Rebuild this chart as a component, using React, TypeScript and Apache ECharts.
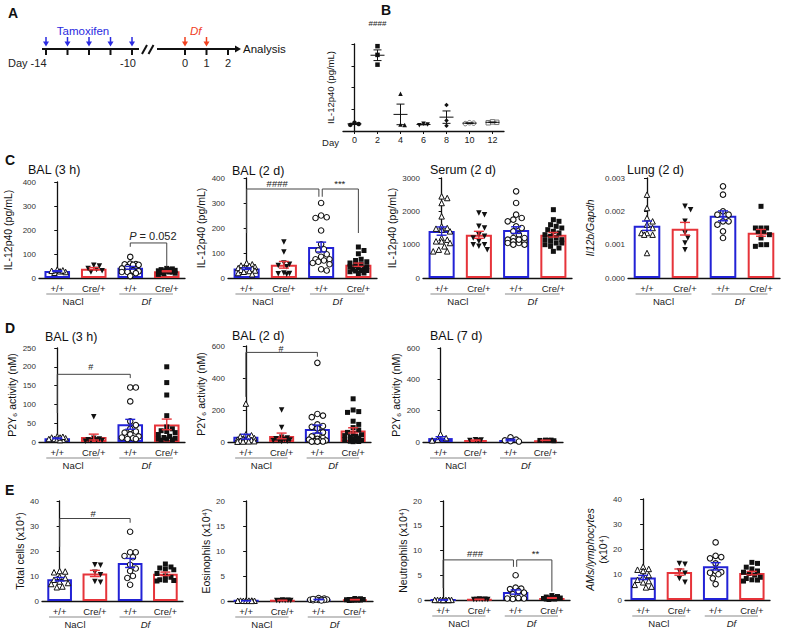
import React, { useEffect, useRef } from 'react';
import * as echarts from 'echarts';

const FONT = 'Liberation Sans, Arial, Helvetica, sans-serif';
const BLUE = '#2222d6';
const RED = '#e6343a';
const TL_BLUE = '#2a2ae0';
const TL_RED = '#f0401e';

// ---------- data ----------
const genotypes = ['+/+', 'Cre/+', '+/+', 'Cre/+'];
const treatments = ['NaCl', 'Df'];

// Panel A timeline (days)
const tamoxifenDays = [-14, -13, -12, -11, -10];
const tamoxifenLabels = [
  { day: -14, text: 'Day -14' },
  { day: -10, text: '-10' },
];
const dfDays = [0, 1];
const analysisDays = [0, 1, 2];

// Panel B: IL-12p40 (pg/mL) over days
const bDays = ['0', '2', '4', '6', '8', '10', '12'];
const bValues = [
  [38, 32, 28],
  [390, 350, 305],
  [171, 28, 30],
  [30, 27, 33],
  [119, 48, 24],
  [34, 36, 38],
  [40, 42, 38],
];

// Panel C
const cBal3h = [
  [22, 25, 28, 30, 32, 35],
  [53, 50, 40, 30, 25, 35],
  [88, 60, 58, 57, 55, 55, 45, 40, 30, 28, 25, 25, 20, 8],
  [40, 38, 35, 35, 30, 28, 25, 25, 22, 20, 18, 15, 30, 32],
];
const cBal2d = [
  [60, 55, 50, 48, 45, 42, 40, 38, 35, 33, 30, 28, 25, 20, 15],
  [144, 104, 60, 55, 50, 45, 20, 18, 15, 17],
  [300, 250, 243, 240, 190, 135, 115, 110, 95, 85, 75, 75, 70, 65, 60, 55, 35, 30],
  [124, 110, 97, 75, 70, 65, 60, 55, 50, 45, 45, 40, 38, 35, 30, 28, 25, 20, 18, 30],
];
const cSerum2d = [
  [2450, 2400, 2250, 1850, 1550, 1500, 1480, 1450, 1400, 1200, 1150, 1100, 1100, 1050, 950, 850, 800, 800],
  [1950, 1900, 1550, 1500, 1300, 1250, 1100, 1000, 950, 850, 1000, 1200],
  [2600, 2250, 1900, 1800, 1750, 1700, 1550, 1500, 1400, 1300, 1200, 1150, 1100, 1100, 1050, 1050, 1000, 1000, 1150, 1200],
  [2050, 1750, 1700, 1600, 1550, 1500, 1450, 1400, 1350, 1300, 1250, 1200, 1150, 1100, 1050, 1000, 950, 900, 800, 1050, 1150],
];
const cLung2d = [
  [0.0025, 0.0021, 0.0018, 0.0017, 0.0016, 0.0015, 0.00135, 0.00135, 0.0013, 0.0013, 0.00075],
  [0.00215, 0.00205, 0.0017, 0.00135, 0.0012, 0.00105, 0.00085],
  [0.00275, 0.0025, 0.002, 0.0019, 0.0019, 0.0017, 0.0017, 0.0016, 0.0014, 0.0012],
  [0.00215, 0.0015, 0.0015, 0.0015, 0.0014, 0.0014, 0.0013, 0.0012, 0.001, 0.001, 0.00095],
];

// Panel D
const dBal3h = [
  [15, 12, 10, 8, 8, 7, 6, 5, 12, 14],
  [67, 10, 8, 6, 5, 4, 3, 2],
  [145, 145, 108, 55, 45, 35, 28, 25, 20, 15, 12, 10, 8, 8],
  [200, 158, 125, 70, 40, 35, 30, 28, 25, 20, 15, 12, 10, 8, 8, 6, 5],
];
const dBal2d = [
  [240, 48, 42, 35, 30, 25, 20, 15, 12, 10, 8, 5, 3, 2, 4],
  [200, 90, 30, 25, 20, 15, 12, 10, 8, 5, 3],
  [495, 175, 165, 155, 110, 100, 95, 85, 60, 45, 35, 25, 20, 15, 10, 8, 5, 3, 2, 2],
  [270, 200, 190, 185, 130, 110, 90, 75, 60, 50, 45, 40, 35, 30, 25, 20, 15, 10, 8, 5, 3, 2],
];
const dBal7d = [
  [50, 25, 15, 10],
  [15, 12, 10, 8],
  [30, 15, 10, 5, 3],
  [12, 12, 10, 10, 8],
];

// Panel E
const eTotal = [
  [12, 11.8, 11.5, 9.7, 9.2, 8.5, 7.8, 7.2, 6.8, 5.5, 5.8],
  [14.5, 14.3, 11.5, 10.5, 7.5, 7.8],
  [27.7, 19.5, 19.5, 18, 17.5, 14.5, 13, 12, 10, 9.2, 6.5],
  [14.8, 13.6, 13.2, 12.5, 12.8, 11, 10, 9.5, 8.5, 8.2, 8, 8.3],
];
const eEos = [
  [0.05, 0.08, 0.1, 0.05, 0.03, 0.1, 0.08, 0.05, 0.02],
  [0.2, 0.15, 0.1, 0.05, 0.1, 0.12],
  [0.6, 0.5, 0.3, 0.3, 0.25, 0.2, 0.2, 0.15, 0.1, 0.3, 0.4],
  [0.5, 0.45, 0.3, 0.3, 0.25, 0.2, 0.2, 0.15, 0.1, 0.3, 0.3, 0.2],
];
const eNeut = [
  [0.02, 0.02, 0.03, 0.01, 0.02, 0.03, 0.02, 0.01, 0.02, 0.02],
  [0.15, 0.1, 0.2, 0.12, 0.08, 0.1],
  [5.0, 2.5, 2.3, 2.2, 1.8, 1.5, 1.2, 0.4, 0.3, 0.2, 0.3],
  [0.9, 0.7, 0.6, 0.5, 0.4, 0.3, 0.3, 0.2, 0.2, 0.1, 0.3, 0.4],
];
const eAms = [
  [13.2, 12.3, 12, 11.5, 9.9, 9.2, 8, 7, 5.3, 5, 6, 7.5],
  [14.5, 14.2, 11.5, 10.6, 8.5, 7],
  [22.8, 17.5, 17, 16.5, 14.5, 11.5, 11, 10.8, 10.2, 8.6, 6.3],
  [14.9, 14.5, 13, 12.3, 11.5, 11, 10.5, 9.9, 9, 8.5, 8, 7.9, 7.5],
];

// ---------- helpers ----------
const mean = (a: number[]) => a.reduce((s, v) => s + v, 0) / a.length;
const sem = (a: number[]) => {
  const m = mean(a);
  const sd = Math.sqrt(a.reduce((s, v) => s + (v - m) * (v - m), 0) / (a.length - 1));
  return sd / Math.sqrt(a.length);
};

// beeswarm layout of x offsets (presentation only)
function swarm(vals: number[], pxPerUnit: number, pxPerCat: number, d: number, maxPx: number) {
  const order = vals.map((_, i) => i).sort((a, b) => vals[b] - vals[a]);
  const placed: { x: number; y: number }[] = [];
  const offs = new Array(vals.length).fill(0);
  for (const i of order) {
    const y = vals[i] * pxPerUnit;
    const cands = [0];
    for (let k = 1; (k * d) / 2 <= maxPx; k++) cands.push((k * d) / 2, (-k * d) / 2);
    let best = 0;
    let bestScore = -Infinity;
    for (const c of cands) {
      let minD = Infinity;
      for (const p of placed) {
        const dist = Math.hypot(p.x - c, p.y - y);
        if (dist < minD) minD = dist;
      }
      if (minD >= d) {
        best = c;
        break;
      }
      if (minD > bestScore) {
        bestScore = minD;
        best = c;
      }
    }
    placed.push({ x: best, y });
    offs[i] = best / pxPerCat;
  }
  return offs;
}

const MARKERS = [
  { symbol: 'triangle', rotate: 0, size: 5.5, color: '#fff', border: '#111', bw: 1 },
  { symbol: 'triangle', rotate: 180, size: 5.5, color: '#111', border: '#111', bw: 0 },
  { symbol: 'circle', rotate: 0, size: 5.5, color: '#fff', border: '#111', bw: 1.1 },
  { symbol: 'rect', rotate: 0, size: 5, color: '#111', border: '#111', bw: 0 },
];

const B_MARKERS = [
  { symbol: 'circle', rotate: 0, color: '#111', border: '#111', bw: 0 },
  { symbol: 'rect', rotate: 0, color: '#111', border: '#111', bw: 0 },
  { symbol: 'triangle', rotate: 0, color: '#111', border: '#111', bw: 0 },
  { symbol: 'triangle', rotate: 180, color: '#111', border: '#111', bw: 0 },
  { symbol: 'diamond', rotate: 0, color: '#111', border: '#111', bw: 0 },
  { symbol: 'circle', rotate: 0, color: '#fff', border: '#777', bw: 1 },
  { symbol: 'rect', rotate: 0, color: '#fff', border: '#777', bw: 1 },
];

interface Bracket { a: number; b: number; top: number; legA: number; legB: number }
interface Lbl { x: number; y: number; text: string; size?: number }
interface Panel {
  data: number[][];
  left: number; top: number; width: number; height: number;
  max: number; interval: number; decimals?: number;
  title?: string; titleX?: number; titleY?: number;
  yName: string; nameGap: number; nameItalic?: boolean;
  brackets: Bracket[]; labels: Lbl[];
}

const PANELS: Panel[] = [
  { data: cBal3h, left: 39, top: 182, width: 146, height: 96, max: 400, interval: 100,
    title: 'BAL (3 h)', titleX: 28, titleY: 170, yName: 'IL-12p40 (pg/mL)', nameGap: 25,
    brackets: [{ a: 2, b: 3, top: 146, legA: 130, legB: 47 }],
    labels: [{ x: 2.62, y: 176, text: '{i|P} = 0.052', size: 11 }] },
  { data: cBal2d, left: 228, top: 178, width: 149, height: 100, max: 400, interval: 100,
    title: 'BAL (2 d)', titleX: 232, titleY: 171, yName: 'IL-12p40 (pg/mL)', nameGap: 21,
    brackets: [{ a: 0, b: 1.94, top: 356, legA: 180, legB: 325 }, { a: 2.03, b: 3, top: 356, legA: 325, legB: 180 }],
    labels: [{ x: 0.82, y: 377, text: '####' }, { x: 2.5, y: 377, text: '***' }] },
  { data: cSerum2d, left: 423, top: 178, width: 149, height: 100, max: 3000, interval: 1000,
    title: 'Serum (2 d)', titleX: 430, titleY: 170, yName: 'IL-12p40 (pg/mL)', nameGap: 23,
    brackets: [], labels: [] },
  { data: cLung2d, left: 628, top: 178, width: 152, height: 100, max: 0.003, interval: 0.001, decimals: 3,
    title: 'Lung (2 d)', titleX: 627, titleY: 170, yName: 'Il12b/Gapdh', nameGap: 32, nameItalic: true,
    brackets: [], labels: [] },
  { data: dBal3h, left: 39, top: 348, width: 146, height: 94, max: 250, interval: 50,
    title: 'BAL (3 h)', titleX: 45, titleY: 337, yName: 'P2Y₆ activity (nM)', nameGap: 15,
    brackets: [{ a: 0, b: 2, top: 180, legA: 77, legB: 170 }],
    labels: [{ x: 0.92, y: 200, text: '#', size: 9 }] },
  { data: dBal2d, left: 228, top: 346, width: 143, height: 96, max: 600, interval: 200,
    title: 'BAL (2 d)', titleX: 232, titleY: 335.5, yName: 'P2Y₆ activity (nM)', nameGap: 21,
    brackets: [{ a: 0, b: 2, top: 560, legA: 282, legB: 533 }],
    labels: [{ x: 0.98, y: 584, text: '#', size: 9 }] },
  { data: dBal7d, left: 423, top: 348, width: 140, height: 94, max: 600, interval: 200,
    title: 'BAL (7 d)', titleX: 430, titleY: 336, yName: 'P2Y₆ activity (nM)', nameGap: 14,
    brackets: [], labels: [] },
  { data: eTotal, left: 42, top: 501, width: 141, height: 100, max: 40, interval: 10,
    yName: 'Total cells (x10⁴)', nameGap: 15,
    brackets: [{ a: 0, b: 2, top: 33, legA: 21.7, legB: 31.3 }],
    labels: [{ x: 0.95, y: 35, text: '#' }] },
  { data: eEos, left: 228, top: 501, width: 145, height: 100, max: 20, interval: 5,
    yName: 'Eosinophils (x10⁴)', nameGap: 15, brackets: [], labels: [] },
  { data: eNeut, left: 425, top: 501, width: 145, height: 99, max: 20, interval: 5,
    yName: 'Neutrophils (x10⁴)', nameGap: 16,
    brackets: [{ a: 0, b: 1.94, top: 8.1, legA: 2.4, legB: 6.7 }, { a: 2.03, b: 3, top: 8.1, legA: 6.7, legB: 1.7 }],
    labels: [{ x: 0.88, y: 9.3, text: '###' }, { x: 2.55, y: 9.3, text: '**' }] },
  { data: eAms, left: 625, top: 499, width: 145, height: 101, max: 40, interval: 10,
    yName: '{i|AMs/lymphocytes}\n(x10⁴)', nameGap: 16, brackets: [], labels: [] },
];

const B_LAYOUT = { left: 343, top: 44, width: 161, height: 87, max: 400, interval: 100 };

function text(x: number, y: number, t: string, o: any = {}) {
  return {
    type: 'text', x, y, silent: true,
    style: {
      text: t, fontSize: o.size ?? 10, fontFamily: FONT, fontWeight: o.weight ?? 'normal',
      fontStyle: o.italic ? 'italic' : 'normal', fill: o.color ?? '#111',
      align: o.align ?? 'left', verticalAlign: o.valign ?? 'middle',
      textAlign: o.align ?? 'left', textVerticalAlign: o.valign ?? 'middle',
    },
  };
}
function line(x1: number, y1: number, x2: number, y2: number, color: string, w: number) {
  return { type: 'line', silent: true, shape: { x1, y1, x2, y2 }, style: { stroke: color, lineWidth: w } };
}

function buildOption() {
  const grid: any[] = [];
  const xAxis: any[] = [];
  const yAxis: any[] = [];
  const series: any[] = [];
  const graphic: any[] = [];

  const yAxisBase = (gi: number, max: number, interval: number, decimals?: number) => ({
    type: 'value', gridIndex: gi, min: 0, max, interval,
    axisLine: { show: true, lineStyle: { color: '#111', width: 1.3 } },
    axisTick: { show: true, length: 3, lineStyle: { color: '#111', width: 1 } },
    axisLabel: {
      fontSize: 8, color: '#333', margin: 3, fontFamily: FONT,
      formatter: (v: number) => (decimals ? v.toFixed(decimals) : String(Math.round(v))),
    },
    splitLine: { show: false },
  });

  const labelSeries = (xi: number, yi: number, labels: Lbl[]) => ({
    type: 'custom', xAxisIndex: xi, yAxisIndex: yi, silent: true, z: 6, clip: false,
    data: labels.map((l) => [l.x, l.y]),
    renderItem: (params: any, api: any) => {
      const l = labels[params.dataIndex];
      const p = api.coord([l.x, l.y]);
      return {
        type: 'text', x: p[0], y: p[1],
        style: {
          text: l.text, fontSize: l.size ?? 9.5, fontFamily: FONT, fill: '#222',
          align: 'center', verticalAlign: 'middle',
          rich: { i: { fontStyle: 'italic', fontSize: l.size ?? 9.5, fontFamily: FONT, fill: '#222' } },
        },
      };
    },
  });

  // ---------- panels C, D, E ----------
  PANELS.forEach((p) => {
    const gi = grid.length;
    grid.push({ left: p.left, top: p.top, width: p.width, height: p.height });
    const xCat = xAxis.length;
    xAxis.push({
      type: 'category', gridIndex: gi, data: genotypes,
      axisLine: { lineStyle: { color: '#111', width: 1.3 } },
      axisTick: { show: false },
      axisLabel: { fontSize: 9.5, color: '#222', margin: 5, fontFamily: FONT, interval: 0 },
      splitLine: { show: false },
    });
    const xVal = xAxis.length;
    xAxis.push({ type: 'value', gridIndex: gi, min: -0.5, max: 3.5, show: false });
    const yi = yAxis.length;
    yAxis.push({
      ...yAxisBase(gi, p.max, p.interval, p.decimals),
      name: p.yName, nameLocation: 'middle', nameGap: p.nameGap, nameRotate: 90,
      nameTextStyle: {
        fontSize: 10.5, color: '#111', fontFamily: FONT, fontStyle: p.nameItalic ? 'italic' : 'normal',
        lineHeight: 13,
        rich: { i: { fontStyle: 'italic', fontSize: 10.5, fontFamily: FONT, color: '#111', lineHeight: 13 } },
      },
    });

    series.push({
      type: 'bar', xAxisIndex: xCat, yAxisIndex: yi, barWidth: '70%', silent: true, z: 2,
      data: p.data.map((g, i) => ({
        value: mean(g),
        itemStyle: { color: '#fff', borderColor: i % 2 === 0 ? BLUE : RED, borderWidth: 2 },
      })),
    });

    p.data.forEach((g, i) => {
      const m = MARKERS[i];
      const offs = swarm(g, p.height / p.max, p.width / 4, 5.6, 10);
      series.push({
        type: 'scatter', xAxisIndex: xVal, yAxisIndex: yi, silent: true, z: 3,
        symbol: m.symbol, symbolRotate: m.rotate, symbolSize: m.size,
        itemStyle: { color: m.color, borderColor: m.border, borderWidth: m.bw, opacity: 1 },
        data: g.map((v, j) => [i + offs[j], v]),
      });
    });

    series.push({
      type: 'custom', xAxisIndex: xVal, yAxisIndex: yi, silent: true, z: 4,
      data: p.data.map((g, i) => [i, mean(g), sem(g)]),
      renderItem: (params: any, api: any) => {
        const x = api.value(0), m = api.value(1), s = api.value(2);
        const t = api.coord([x, m + s]);
        const b = api.coord([x, Math.max(0, m - s)]);
        const c = params.dataIndex % 2 === 0 ? BLUE : RED;
        const st = { stroke: c, lineWidth: 1.4 };
        return {
          type: 'group',
          children: [
            { type: 'line', shape: { x1: t[0], y1: t[1], x2: b[0], y2: b[1] }, style: st },
            { type: 'line', shape: { x1: t[0] - 5, y1: t[1], x2: t[0] + 5, y2: t[1] }, style: st },
            { type: 'line', shape: { x1: b[0] - 5, y1: b[1], x2: b[0] + 5, y2: b[1] }, style: st },
          ],
        };
      },
    });

    if (p.brackets.length) {
      series.push({
        type: 'custom', xAxisIndex: xVal, yAxisIndex: yi, silent: true, z: 5, clip: false,
        data: p.brackets.map((b) => [b.a, b.top]),
        renderItem: (params: any, api: any) => {
          const b = p.brackets[params.dataIndex];
          const pts = [
            api.coord([b.a, b.legA]), api.coord([b.a, b.top]),
            api.coord([b.b, b.top]), api.coord([b.b, b.legB]),
          ];
          return { type: 'polyline', shape: { points: pts }, style: { stroke: '#444', lineWidth: 1, fill: null } };
        },
      });
    }
    if (p.labels.length) series.push(labelSeries(xVal, yi, p.labels));

    // treatment group lines and labels
    const band = p.width / 4;
    const cx = (i: number) => p.left + band * (i + 0.5);
    const yLine = p.top + p.height + 16;
    [[0, 1], [2, 3]].forEach(([a, b], gIdx) => {
      const x1 = cx(a) - 0.3 * band;
      const x2 = cx(b) + 0.17 * band;
      graphic.push(line(x1, yLine, x2, yLine, '#b0b0b0', 1.6));
      graphic.push(text((x1 + x2) / 2, yLine + 7, treatments[gIdx], { size: 9.5, align: 'center', italic: gIdx === 1, color: '#222' }));
    });
    if (p.title) graphic.push(text(p.titleX!, p.titleY!, p.title, { size: 12.5 }));
  });

  // ---------- panel B ----------
  {
    const gi = grid.length;
    const L = B_LAYOUT;
    grid.push({ left: L.left, top: L.top, width: L.width, height: L.height });
    const xCat = xAxis.length;
    xAxis.push({
      type: 'category', gridIndex: gi, data: bDays,
      axisLine: { lineStyle: { color: '#111', width: 1.3 } },
      axisTick: { show: true, alignWithLabel: true, length: 3, lineStyle: { color: '#111' } },
      axisLabel: { fontSize: 9, color: '#222', margin: 4, fontFamily: FONT, interval: 0 },
    });
    const xVal = xAxis.length;
    xAxis.push({ type: 'value', gridIndex: gi, min: -0.5, max: bDays.length - 0.5, show: false });
    const yi = yAxis.length;
    yAxis.push({
      ...yAxisBase(gi, L.max, L.interval),
      name: 'IL-12p40 (pg/mL)', nameLocation: 'middle', nameGap: 8, nameRotate: 90,
      nameTextStyle: { fontSize: 9.5, color: '#111', fontFamily: FONT },
      axisLabel: { show: false },
    });
    series.push({ type: 'bar', xAxisIndex: xCat, yAxisIndex: yi, data: bValues.map(() => 0), barWidth: 1, silent: true, itemStyle: { opacity: 0 } });
    bValues.forEach((g, i) => {
      const m = B_MARKERS[i];
      const offs = swarm(g, L.height / L.max, L.width / bDays.length, 4.2, 7);
      series.push({
        type: 'scatter', xAxisIndex: xVal, yAxisIndex: yi, silent: true, z: 3,
        symbol: m.symbol, symbolRotate: m.rotate, symbolSize: 4.5,
        itemStyle: { color: m.color, borderColor: m.border, borderWidth: m.bw, opacity: 1 },
        data: g.map((v, j) => [i + offs[j], v]),
      });
    });
    series.push({
      type: 'custom', xAxisIndex: xVal, yAxisIndex: yi, silent: true, z: 4,
      data: bValues.map((g, i) => [i, mean(g), sem(g)]),
      renderItem: (params: any, api: any) => {
        const x = api.value(0), m = api.value(1), s = api.value(2);
        const c = api.coord([x, m]);
        const t = api.coord([x, m + s]);
        const b = api.coord([x, Math.max(0, m - s)]);
        const st = { stroke: '#111', lineWidth: 1 };
        return {
          type: 'group',
          children: [
            { type: 'line', shape: { x1: c[0] - 7, y1: c[1], x2: c[0] + 7, y2: c[1] }, style: st },
            { type: 'line', shape: { x1: t[0], y1: t[1], x2: b[0], y2: b[1] }, style: st },
            { type: 'line', shape: { x1: t[0] - 4, y1: t[1], x2: t[0] + 4, y2: t[1] }, style: st },
            { type: 'line', shape: { x1: b[0] - 4, y1: b[1], x2: b[0] + 4, y2: b[1] }, style: st },
          ],
        };
      },
    });
    series.push(labelSeries(xVal, yi, [{ x: 1, y: 495, text: '####', size: 8 }]));
    graphic.push(text(L.left - 4, L.top + L.height + 11, 'Day', { size: 9.5, align: 'right', color: '#222' }));
  }

  // ---------- panel A: timeline ----------
  const TY = 49;
  const PX_DAY = 21.5;
  const xT = (d: number) => 46 + (d + 14) * PX_DAY;
  const xD = (d: number) => 185 + d * PX_DAY;
  graphic.push(line(xT(-14) - 4, TY, xT(-10) + 7, TY, '#111', 2));
  tamoxifenDays.forEach((d) => {
    const x = xT(d);
    graphic.push(line(x, TY, x, TY + 6, '#111', 2));
    graphic.push(line(x, 37, x, 42, TL_BLUE, 1.5));
    graphic.push({ type: 'polygon', silent: true, shape: { points: [[x - 3, 41.5], [x + 3, 41.5], [x, 46.5]] }, style: { fill: TL_BLUE } });
  });
  tamoxifenLabels.forEach((l) => {
    graphic.push(text(l.day === -14 ? 8 : xT(l.day) - 4, 63, l.text, { size: 11, align: l.day === -14 ? 'left' : 'center', color: '#222' }));
  });
  graphic.push(line(142, 54, 147, 45, '#111', 2));
  graphic.push(line(148.5, 54, 153.5, 45, '#111', 2));
  graphic.push(line(157, TY, xD(2) + 8, TY, '#111', 2));
  graphic.push({ type: 'polygon', silent: true, shape: { points: [[xD(2) + 7, TY - 3.5], [xD(2) + 7, TY + 3.5], [xD(2) + 13, TY]] }, style: { fill: '#111' } });
  analysisDays.forEach((d) => {
    graphic.push(line(xD(d), TY, xD(d), TY + 6, '#111', 2));
    graphic.push(text(xD(d), 63, String(d), { size: 11, align: 'center', color: '#222' }));
  });
  dfDays.forEach((d) => {
    const x = xD(d);
    graphic.push(line(x, 37, x, 42, TL_RED, 1.5));
    graphic.push({ type: 'polygon', silent: true, shape: { points: [[x - 3, 41.5], [x + 3, 41.5], [x, 46.5]] }, style: { fill: TL_RED } });
  });
  graphic.push(text(83, 31, 'Tamoxifen', { size: 11.5, align: 'center', color: TL_BLUE }));
  graphic.push(text(xD(0.5), 31, 'Df', { size: 11.5, align: 'center', color: TL_RED, italic: true }));
  graphic.push(text(xD(2) + 15, TY, 'Analysis', { size: 11.5, color: '#111' }));

  // panel letters
  [['A', 8, 13], ['B', 381, 10], ['C', 5, 160], ['D', 5, 328], ['E', 5, 490]].forEach(([t, x, y]) => {
    graphic.push(text(x as number, y as number, t as string, { size: 14, weight: 'bold' }));
  });

  return {
    animation: false,
    backgroundColor: '#fff',
    textStyle: { fontFamily: FONT },
    grid, xAxis, yAxis, series, graphic,
  };
}

export default function App() {
  const ref = useRef<HTMLDivElement>(null);
  useEffect(() => {
    const chart = echarts.init(ref.current!, null, { renderer: 'svg' });
    chart.setOption(buildOption() as any);
    return () => chart.dispose();
  }, []);
  return (
    <div
      ref={ref}
      style={{ position: 'absolute', left: 0, top: 0, width: 794, height: 641, background: '#fff' }}
    />
  );
}
